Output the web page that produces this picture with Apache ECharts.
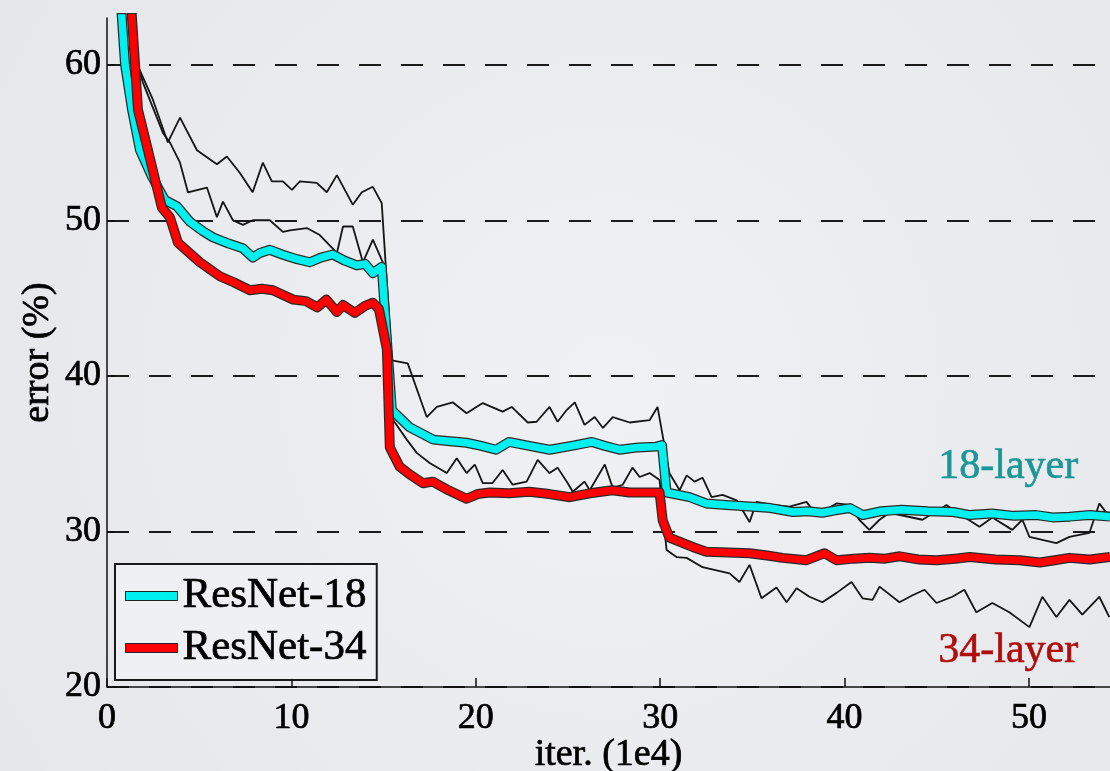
<!DOCTYPE html>
<html>
<head>
<meta charset="utf-8">
<script src="https://cdn.jsdelivr.net/npm/echarts@6/dist/echarts.min.js"></script>
<style>
html,body{margin:0;padding:0;background:#eceef1;}
#chart{width:1110px;height:771px;}
</style>
</head>
<body>
<div id="chart"></div>
<script>
// ---- data: [iteration (1e4), error (%)] ----
const resnet18Val = [
  [0.75,64],[0.98,60.0],[1.36,57.1],[1.79,54.5],[2.44,52.8],[3.14,51.3],[3.79,50.9],[4.5,49.9],
  [5.2,49.3],[5.75,48.9],[6.6,48.5],[7.37,48.2],[7.91,47.6],[8.3,47.9],[8.83,48.1],[9.5,47.8],
  [10.3,47.5],[11.0,47.3],[11.6,47.6],[12.25,47.8],[12.9,47.4],[13.55,47.1],[14.0,47.2],[14.42,46.6],
  [14.9,47.0],[15.45,37.8],[16.4,36.7],[17.7,35.9],[18.6,35.8],[19.5,35.7],[20.3,35.5],[21.1,35.25],
  [21.8,35.75],[22.9,35.5],[24.0,35.25],[25.2,35.5],[26.3,35.75],[27.0,35.5],[27.8,35.25],[28.8,35.4],
  [29.8,35.45],[30.1,35.55],[30.35,32.5],[31.6,32.2],[32.5,31.8],[33.6,31.7],[34.85,31.6],[36.0,31.5],
  [37.2,31.25],[38.0,31.3],[38.8,31.2],[39.5,31.35],[40.3,31.5],[41.0,31.05],[42.0,31.3],[43.1,31.4],
  [44.5,31.3],[45.9,31.25],[46.8,31.05],[48.0,31.15],[49.2,31.0],[50.4,31.05],[51.3,30.9],[52.2,30.95],
  [53.3,31.05],[54.4,30.95]
];
const resnet34Val = [
  [1.3,64],[1.68,57.1],[2.22,54.5],[2.98,50.8],[3.41,50.2],[3.85,48.55],[5.04,47.3],[6.12,46.4],
  [6.9,46.0],[7.75,45.5],[8.4,45.6],[9.0,45.5],[10.1,44.9],[10.8,44.8],[11.4,44.4],[11.9,44.9],
  [12.47,44.1],[12.8,44.55],[13.44,44.05],[14.0,44.5],[14.42,44.7],[14.75,44.3],[15.18,41.7],[15.34,35.4],
  [15.88,34.15],[16.5,33.6],[17.13,33.1],[17.67,33.2],[18.43,32.7],[19.5,32.1],[20.1,32.4],[20.76,32.5],
  [21.8,32.45],[22.9,32.55],[24.0,32.4],[25.1,32.2],[26.2,32.45],[27.4,32.65],[28.35,32.5],[29.97,32.5],
  [30.14,30.7],[30.5,29.6],[31.76,29.0],[32.5,28.7],[33.7,28.65],[34.85,28.6],[35.8,28.45],[36.64,28.3],
  [37.94,28.15],[38.92,28.6],[39.57,28.15],[40.5,28.25],[41.35,28.3],[42.2,28.25],[43.0,28.4],[44.0,28.2],
  [45.0,28.15],[46.0,28.25],[46.8,28.35],[48.2,28.2],[49.5,28.15],[50.6,28.0],[51.4,28.15],[52.2,28.3],
  [53.3,28.2],[54.4,28.35]
];
const resnet18Train = [
  [1.35,64],[1.68,59.9],[2.49,57.75],[3.3,55.0],[3.96,56.6],[4.88,54.5],[5.96,53.6],[6.5,54.1],
  [7.2,53.05],[7.9,51.8],[8.45,53.7],[8.94,52.5],[9.54,52.5],[10.03,51.95],[10.46,52.5],[11.38,52.4],
  [11.92,51.8],[12.47,52.9],[13.33,51.0],[13.82,51.8],[14.42,52.15],[14.9,51.1],[15.45,41.0],[16.31,40.8],
  [17.34,37.35],[17.89,38.0],[18.75,38.3],[19.5,37.6],[20.38,38.25],[21.46,37.7],[21.95,38.0],[22.82,37.0],
  [23.3,37.05],[24.0,38.0],[24.44,37.05],[24.93,37.8],[25.37,38.3],[25.9,36.85],[26.45,37.35],[26.9,36.65],
  [27.43,37.35],[28.35,37.0],[29.43,37.15],[29.86,38.0],[30.5,33.75],[31.06,32.65],[31.44,33.6],[31.87,33.2],
  [32.3,33.45],[32.79,32.2],[33.39,32.35],[34.15,32.0],[34.85,30.6],[35.23,31.9],[36.1,31.7],[37.02,31.6],
  [37.94,31.9],[38.48,31.05],[39.57,31.8],[40.27,31.7],[40.8,30.75],[41.35,30.1],[41.9,30.75],[42.44,31.2],
  [44.23,30.75],[45.53,31.7],[46.07,31.25],[47.32,30.3],[48.02,30.9],[49.1,30.1],[49.65,30.75],[50.03,29.65],
  [51.49,29.25],[52.2,29.65],[53.28,29.9],[53.82,31.8],[54.36,30.95]
];
const resnet34Train = [
  [1.4,63.5],[1.68,59.9],[1.95,58.85],[3.04,55.6],[3.41,55.0],[3.96,53.7],[4.39,51.8],[5.42,52.1],
  [5.96,50.2],[6.29,51.2],[6.83,50.0],[7.37,49.7],[7.91,50.0],[8.83,50.0],[9.54,49.25],[9.92,49.35],
  [10.84,49.5],[11.54,49.05],[12.47,47.9],[12.8,49.6],[13.33,49.6],[13.88,47.3],[14.42,48.75],[14.96,47.3],
  [15.5,37.2],[16.26,35.9],[16.8,35.05],[17.5,34.4],[18.43,33.75],[18.97,34.7],[19.5,33.75],[19.95,34.3],
  [20.38,33.1],[20.9,33.1],[21.46,33.95],[22.0,33.0],[22.76,33.2],[23.36,34.6],[24.0,33.75],[24.44,34.1],
  [24.99,33.1],[25.26,32.55],[25.9,33.2],[26.18,32.65],[27.0,34.3],[27.43,32.8],[27.97,33.0],[28.5,34.1],
  [28.89,33.5],[29.43,33.75],[29.97,33.3],[30.35,28.8],[30.89,28.35],[31.44,28.3],[32.3,27.7],[33.06,27.5],
  [33.77,27.3],[34.3,26.75],[34.85,27.85],[35.5,25.7],[36.31,26.4],[36.86,25.45],[37.4,26.35],[38.1,25.8],
  [38.8,25.45],[39.57,26.05],[40.38,26.75],[40.98,25.7],[41.52,25.6],[41.9,26.45],[42.98,25.45],[43.69,25.9],
  [44.34,26.25],[44.99,25.4],[45.85,25.8],[46.5,26.25],[47.15,24.8],[48.02,25.4],[48.94,24.8],[50.03,23.85],
  [50.73,25.8],[51.49,24.5],[52.2,25.6],[52.9,24.65],[53.82,25.8],[54.36,24.5]
];
const yTicks = [20, 30, 40, 50, 60];
const xTicks = [0, 10, 20, 30, 40, 50];

const FONT = '"Liberation Serif", "DejaVu Serif", serif';
const chart = echarts.init(document.getElementById('chart'));

function txt(size, color) {
  return { fontFamily: FONT, fontSize: size, color, textBorderColor: color, textBorderWidth: 0.7 };
}
function thin(name, data) {
  return { name, type: 'line', data, symbol: 'none', animation: false,
    lineStyle: { color: '#151515', width: 1.8 } };
}
function outline(name, data) {
  return { name, type: 'line', data, symbol: 'none', animation: false,
    lineStyle: { color: '#2a2a2a', width: 10, join: 'round' } };
}
function thick(name, data, color) {
  return { name, type: 'line', data, symbol: 'none', animation: false,
    itemStyle: { color, borderColor: '#222', borderWidth: 1 },
    lineStyle: { color, width: 7.5, join: 'round' } };
}

chart.setOption({
  backgroundColor: {
    type: 'radial', x: 0.55, y: 0.5, r: 0.9,
    colorStops: [{ offset: 0, color: '#f0f1f4' }, { offset: 1, color: '#e6e7ea' }]
  },
  animation: false,
  grid: { left: 107, right: 0, top: 18, bottom: 84, containLabel: false, outerBoundsMode: 'none' },
  legend: {
    data: ['ResNet-18', 'ResNet-34'],
    orient: 'vertical', left: 115, top: 564,
    padding: [8, 10, 8, 10], itemGap: 4,
    itemWidth: 52, itemHeight: 9, icon: 'rect',
    borderColor: '#1a1a1a', borderWidth: 2, borderRadius: 0,
    backgroundColor: 'rgba(240,241,244,0.9)',
    textStyle: Object.assign(txt(43, '#000'), { lineHeight: 48 }),
    itemStyle: { borderColor: '#222', borderWidth: 1 },
    selectedMode: false
  },
  xAxis: {
    type: 'value', min: 0, max: 54.4, interval: 10,
    name: 'iter. (1e4)', nameLocation: 'middle', nameGap: 49, nameMoveOverlap: false,
    nameTextStyle: txt(38, '#000'),
    axisLine: { show: true, lineStyle: { color: '#111', width: 1.5 } },
    axisTick: { inside: true, length: 9, customValues: xTicks, lineStyle: { color: '#111', width: 1.5 } },
    axisLabel: Object.assign(txt(36, '#000'), { customValues: xTicks, margin: 14 }),
    splitLine: { show: false }
  },
  yAxis: {
    type: 'value', min: 20, max: 63, interval: 10,
    name: 'error (%)', nameLocation: 'middle', nameGap: 50, nameRotate: 90, nameMoveOverlap: false,
    nameTextStyle: txt(38, '#000'),
    axisLine: { show: true, lineStyle: { color: '#111', width: 1.5 } },
    axisTick: { show: true, inside: true, length: 8, customValues: yTicks, lineStyle: { color: '#111', width: 1.5 } },
    axisLabel: Object.assign(txt(36, '#000'), { customValues: yTicks, margin: 6 }),
    splitLine: { show: true,
      lineStyle: { color: '#1a1a1a', width: 2, type: [22, 20] } }
  },
  graphic: [
    { type: 'text', left: 938, top: 446, z: 10,
      style: { text: '18-layer', font: '42px ' + FONT, fill: '#1b9696', stroke: '#1b9696', lineWidth: 0.6 } },
    { type: 'text', left: 938, top: 630, z: 10,
      style: { text: '34-layer', font: '42px ' + FONT, fill: '#b00c0c', stroke: '#b00c0c', lineWidth: 0.6 } }
  ],
  series: [
    thin('train18', resnet18Train),
    thin('train34', resnet34Train),
    outline('outline18', resnet18Val),
    thick('ResNet-18', resnet18Val, '#00f0f0'),
    outline('outline34', resnet34Val),
    thick('ResNet-34', resnet34Val, '#ff0000')
  ].map((s, i) => Object.assign(s, { z: i + 2 }))
});
</script>
</body>
</html>
